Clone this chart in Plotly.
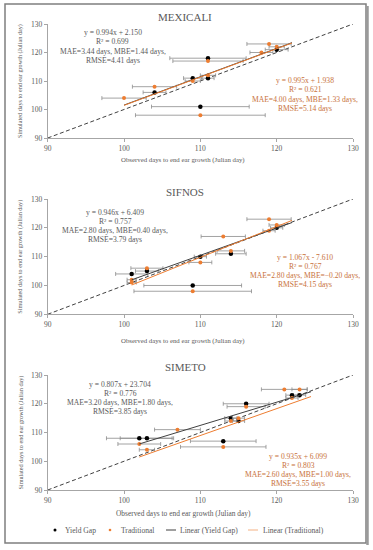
import plotly.graph_objects as go

W, H = 373, 550
def px(x): return x / W
def py(y): return 1 - y / H

sites = ["MEXICALI", "SIFNOS", "SIMETO"]

# Yield Gap (black) points
yg_x = {"MEXICALI": [120, 111, 109, 111, 104, 110],
        "SIFNOS": [120, 110, 114, 103, 101, 109],
        "SIMETO": [122, 123, 116, 114, 115, 102, 103, 113]}
yg_y = {"MEXICALI": [121, 118, 111, 111, 106, 101],
        "SIFNOS": [120, 110, 111, 105, 104, 100],
        "SIMETO": [123, 123, 120, 115, 114, 108, 108, 107]}
yg_err = {"MEXICALI": [1.5, 5.0, 1.2, 0.8, 1.5, 6.4],
          "SIFNOS": [0.8, 0.8, 2.0, 1.5, 2.1, 6.4],
          "SIMETO": [0.8, 0.8, 3.0, 0.8, 0.8, 4.3, 3.5, 4.3]}

# Traditional (orange) points
tr_x = {"MEXICALI": [119, 120, 118, 111, 111, 109, 104, 100, 110],
        "SIFNOS": [119, 120, 119, 113, 114, 110, 103, 101, 101, 109],
        "SIMETO": [121, 123, 122, 116, 114, 115, 107, 102, 103, 113]}
tr_y = {"MEXICALI": [123, 122, 120, 117, 112, 110, 108, 104, 98],
        "SIFNOS": [123, 121, 119, 117, 112, 108, 106, 102, 101, 98],
        "SIMETO": [125, 125, 122, 119, 114, 115, 111, 106, 104, 105]}
tr_err = {"MEXICALI": [2.9, 1.0, 1.5, 4.6, 1.0, 1.0, 2.9, 2.9, 8.5],
          "SIFNOS": [2.9, 1.0, 0.8, 2.9, 1.8, 1.5, 2.1, 0.6, 0.6, 7.7],
          "SIMETO": [3.0, 1.0, 0.8, 2.5, 0.8, 0.8, 3.0, 2.8, 1.0, 5.6]}

# Linear fits (slope, intercept) and x span
yg_fit = {"MEXICALI": (0.994, 2.150), "SIFNOS": (0.946, 6.409), "SIMETO": (0.807, 23.704)}
tr_fit = {"MEXICALI": (0.995, 1.938), "SIFNOS": (1.067, -7.610), "SIMETO": (0.935, 6.099)}
fit_span = {"MEXICALI": (100, 122), "SIFNOS": (101, 122), "SIMETO": (102, 124.5)}

yg_text = {"MEXICALI": ["y = 0.994x + 2.150", "R² = 0.699", "MAE=3.44 days, MBE=1.44 days,", "RMSE=4.41 days"],
           "SIFNOS": ["y = 0.946x + 6.409", "R² = 0.757", "MAE=2.80 days, MBE=0.40 days,", "RMSE=3.79 days"],
           "SIMETO": ["y = 0.807x + 23.704", "R² = 0.776", "MAE=3.20 days, MBE=1.80 days,", "RMSE=3.85 days"]}
tr_text = {"MEXICALI": ["y = 0.995x + 1.938", "R² = 0.621", "MAE=4.00 days, MBE=1.33 days,", "RMSE=5.14 days"],
           "SIFNOS": ["y = 1.067x - 7.610", "R² = 0.767", "MAE=2.80 days, MBE=−0.20 days,", "RMSE=4.15 days"],
           "SIMETO": ["y = 0.935x + 6.099", "R² = 0.803", "MAE=2.60 days, MBE=1.00 days,", "RMSE=3.55 days"]}

ticks = [90, 100, 110, 120, 130]
x_title = "Observed days to end ear growth (Julian day)"
y_title = "Simulated days to end ear growth (Julian day)"
legend_names = ["Yield Gap", "Traditional", "Linear (Yield Gap)", "Linear (Traditional)"]

# layout geometry (pixels)
x_dom = (47.7, 353)
y_doms = [(24, 138), (199, 314.3), (375, 490)]
title_y = [17, 192, 367]
xt_y = [160, 341, 513.5]
ygt_y = [32.5, 212, 384]
trt_y = [80.5, 257, 456]
ygt_x = [113, 115, 120]
trt_x = [305, 305, 298]

FONT = "Liberation Serif"
GRAY = "#595959"
ORANGE = "#ED7D31"
ORANGE_T = "#C8713A"

def ann(text, x, y, size, color, **kw):
    d = dict(text=text, x=px(x), y=py(y), xref="paper", yref="paper", showarrow=False,
             xanchor="center", yanchor="middle", font=dict(family=FONT, size=size, color=color))
    d.update(kw)
    return d

fig = go.Figure()
annotations = []
shapes = []
for i, s in enumerate(sites):
    xa = "x" if i == 0 else f"x{i+1}"
    ya = "y" if i == 0 else f"y{i+1}"
    fig.add_trace(go.Scatter(x=[90, 130], y=[90, 130], mode="lines", xaxis=xa, yaxis=ya,
                             line=dict(color="#404040", width=1, dash="4px,2.5px"), showlegend=False,
                             hoverinfo="skip"))
    fig.add_trace(go.Scatter(x=yg_x[s], y=yg_y[s], mode="markers", xaxis=xa, yaxis=ya,
                             name=legend_names[0], showlegend=False,
                             marker=dict(color="black", size=4.5),
                             error_x=dict(type="data", array=yg_err[s], color="#8c8c8c",
                                          thickness=0.8, width=2)))
    fig.add_trace(go.Scatter(x=tr_x[s], y=tr_y[s], mode="markers", xaxis=xa, yaxis=ya,
                             name=legend_names[1], showlegend=False,
                             marker=dict(color=ORANGE, size=4),
                             error_x=dict(type="data", array=tr_err[s], color="#8c8c8c",
                                          thickness=0.8, width=2)))
    x0, x1 = fit_span[s]
    a, b = yg_fit[s]
    fig.add_trace(go.Scatter(x=[x0, x1], y=[a * x0 + b, a * x1 + b], mode="lines", xaxis=xa, yaxis=ya,
                             name=legend_names[2], showlegend=False,
                             line=dict(color="#404040", width=1)))
    a, b = tr_fit[s]
    fig.add_trace(go.Scatter(x=[x0, x1], y=[a * x0 + b, a * x1 + b], mode="lines", xaxis=xa, yaxis=ya,
                             name=legend_names[3], showlegend=False,
                             line=dict(color=ORANGE, width=1)))

    common = dict(range=[90, 130], tickvals=ticks, showgrid=False, zeroline=False,
                  showline=True, linecolor="#a6a6a6", linewidth=1, ticks="outside",
                  ticklen=3, tickcolor="#a6a6a6", tickfont=dict(family=FONT, size=7.5, color=GRAY),
                  fixedrange=True, automargin=False)
    ax = dict(common, domain=[px(x_dom[0]), px(x_dom[1])], anchor=ya)
    ay = dict(common, domain=[py(y_doms[i][1]), py(y_doms[i][0])], anchor=xa)
    fig.update_layout(**{("xaxis" if i == 0 else f"xaxis{i+1}"): ax,
                         ("yaxis" if i == 0 else f"yaxis{i+1}"): ay})

    annotations.append(ann(s, 185, title_y[i], 11, GRAY))
    annotations.append(ann(x_title, 183, xt_y[i], 7.4 if i == 2 else 6.8, GRAY))
    annotations.append(ann(y_title, 20, (y_doms[i][0] + y_doms[i][1]) / 2, 6.2, GRAY, textangle=-90))
    for k in range(4):
        annotations.append(ann(yg_text[s][k], ygt_x[i], ygt_y[i] + 9.3 * k, 7.6, GRAY))
        annotations.append(ann(tr_text[s][k], trt_x[i], trt_y[i] + 9.3 * k, 7.6, ORANGE_T))

# manual legend (symbols + labels)
LY = 530
leg_txt_x = [63, 119, 178, 261]
shapes.append(dict(type="circle", xref="paper", yref="paper", x0=px(53.5), x1=px(56.5),
                   y0=py(LY + 1.5), y1=py(LY - 1.5), fillcolor="black", line=dict(width=0)))
shapes.append(dict(type="circle", xref="paper", yref="paper", x0=px(108.7), x1=px(111.3),
                   y0=py(LY + 1.3), y1=py(LY - 1.3), fillcolor=ORANGE, line=dict(width=0)))
shapes.append(dict(type="line", xref="paper", yref="paper", x0=px(166), x1=px(176),
                   y0=py(LY), y1=py(LY), line=dict(color="#404040", width=1)))
shapes.append(dict(type="line", xref="paper", yref="paper", x0=px(248), x1=px(258),
                   y0=py(LY), y1=py(LY), line=dict(color="#F4B183", width=1)))
for name, tx in zip(legend_names, leg_txt_x):
    annotations.append(ann(name, tx, LY, 7.6, GRAY, xanchor="left"))

shapes.append(dict(type="rect", xref="paper", yref="paper", x0=px(5), x1=px(366), y0=py(543), y1=py(4),
                   line=dict(color="#7f7f7f", width=1.5)))
shapes.append(dict(type="line", xref="paper", yref="paper", x0=px(367.5), x1=px(367.5), y0=py(545), y1=py(6),
                   line=dict(color="#9a9a9a", width=2.5)))

fig.update_layout(width=W, height=H, margin=dict(l=0, r=0, t=0, b=0, autoexpand=False),
                  paper_bgcolor="white", plot_bgcolor="white", showlegend=False,
                  annotations=annotations, shapes=shapes)
fig.write_html("out.html", config={"displayModeBar": False},
               post_script="document.body.style.margin='0';document.body.style.padding='0';"
                           "document.body.style.overflow='hidden';")
